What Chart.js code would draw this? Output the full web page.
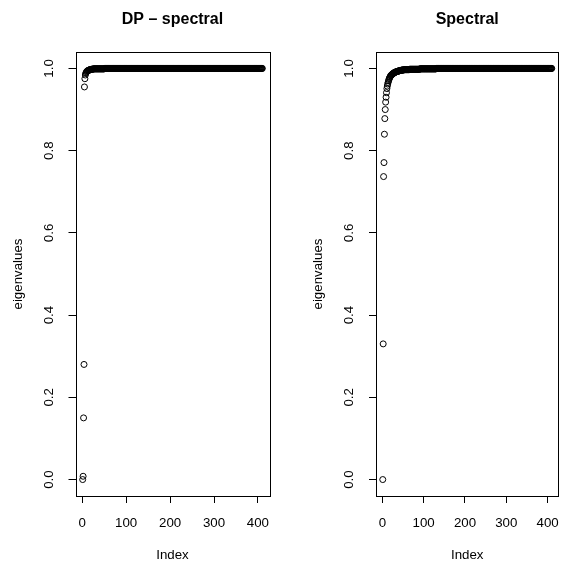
<!DOCTYPE html>
<html>
<head>
<meta charset="utf-8">
<script src="https://cdn.jsdelivr.net/npm/chart.js@4.4.1/dist/chart.umd.min.js"></script>
<style>
  html, body { margin: 0; padding: 0; background: #fff; overflow: hidden; }
  body { width: 571px; height: 565px; position: relative; }
  canvas { position: absolute; top: 0; }
</style>
</head>
<body>
<canvas id="dpChart" width="300" height="565" style="left:0"></canvas>
<canvas id="specChart" width="271" height="565" style="left:300px"></canvas>
<script>
const panelTitles = ['DP \u2013 spectral', 'Spectral'];
const xTitle = 'Index';
const yTitle = 'eigenvalues';
const xTicks = [0, 100, 200, 300, 400];
const yTicks = [0, 0.2, 0.4, 0.6, 0.8, 1.0];

// sorted eigenvalues, 410 each
const dpEigen = [
  0.000, 0.008, 0.150, 0.280, 0.955, 0.975, 0.984, 0.988, 0.990, 0.992, 0.993, 0.994, 0.995, 0.995, 0.996, 0.996, 0.997, 0.997, 0.997, 0.998,
  0.998, 0.998, 0.998, 0.998, 0.999, 0.999, 0.999, 0.999, 0.999, 0.999, 0.999, 0.999, 0.999, 0.999, 0.999, 0.999, 0.999, 0.999, 0.999, 0.999,
  0.999, 0.999, 0.999, 0.999, 0.999, 0.999, 0.999, 0.999, 0.999, 0.999, 1, 1, 1, 1, 1, 1, 1, 1, 1, 1,
  1, 1, 1, 1, 1, 1, 1, 1, 1, 1, 1, 1, 1, 1, 1, 1, 1, 1, 1, 1,
  1, 1, 1, 1, 1, 1, 1, 1, 1, 1, 1, 1, 1, 1, 1, 1, 1, 1, 1, 1,
  1, 1, 1, 1, 1, 1, 1, 1, 1, 1, 1, 1, 1, 1, 1, 1, 1, 1, 1, 1,
  1, 1, 1, 1, 1, 1, 1, 1, 1, 1, 1, 1, 1, 1, 1, 1, 1, 1, 1, 1,
  1, 1, 1, 1, 1, 1, 1, 1, 1, 1, 1, 1, 1, 1, 1, 1, 1, 1, 1, 1,
  1, 1, 1, 1, 1, 1, 1, 1, 1, 1, 1, 1, 1, 1, 1, 1, 1, 1, 1, 1,
  1, 1, 1, 1, 1, 1, 1, 1, 1, 1, 1, 1, 1, 1, 1, 1, 1, 1, 1, 1,
  1, 1, 1, 1, 1, 1, 1, 1, 1, 1, 1, 1, 1, 1, 1, 1, 1, 1, 1, 1,
  1, 1, 1, 1, 1, 1, 1, 1, 1, 1, 1, 1, 1, 1, 1, 1, 1, 1, 1, 1,
  1, 1, 1, 1, 1, 1, 1, 1, 1, 1, 1, 1, 1, 1, 1, 1, 1, 1, 1, 1,
  1, 1, 1, 1, 1, 1, 1, 1, 1, 1, 1, 1, 1, 1, 1, 1, 1, 1, 1, 1,
  1, 1, 1, 1, 1, 1, 1, 1, 1, 1, 1, 1, 1, 1, 1, 1, 1, 1, 1, 1,
  1, 1, 1, 1, 1, 1, 1, 1, 1, 1, 1, 1, 1, 1, 1, 1, 1, 1, 1, 1,
  1, 1, 1, 1, 1, 1, 1, 1, 1, 1, 1, 1, 1, 1, 1, 1, 1, 1, 1, 1,
  1, 1, 1, 1, 1, 1, 1, 1, 1, 1, 1, 1, 1, 1, 1, 1, 1, 1, 1, 1,
  1, 1, 1, 1, 1, 1, 1, 1, 1, 1, 1, 1, 1, 1, 1, 1, 1, 1, 1, 1,
  1, 1, 1, 1, 1, 1, 1, 1, 1, 1, 1, 1, 1, 1, 1, 1, 1, 1, 1, 1,
  1, 1, 1, 1, 1, 1, 1, 1, 1, 1
];

const spectralEigen = [
  0.000, 0.330, 0.737, 0.771, 0.840, 0.878, 0.900, 0.918, 0.930, 0.941, 0.951, 0.957, 0.962, 0.966, 0.970, 0.973, 0.976, 0.978, 0.980, 0.982,
  0.983, 0.984, 0.985, 0.986, 0.987, 0.988, 0.988, 0.989, 0.990, 0.990, 0.991, 0.991, 0.992, 0.992, 0.992, 0.993, 0.993, 0.993, 0.994, 0.994,
  0.994, 0.995, 0.995, 0.995, 0.995, 0.996, 0.996, 0.996, 0.996, 0.996, 0.996, 0.997, 0.997, 0.997, 0.997, 0.997, 0.997, 0.997, 0.997, 0.997,
  0.997, 0.997, 0.997, 0.997, 0.997, 0.998, 0.998, 0.998, 0.998, 0.998, 0.998, 0.998, 0.998, 0.998, 0.998, 0.998, 0.998, 0.998, 0.998, 0.998,
  0.998, 0.998, 0.998, 0.998, 0.998, 0.998, 0.998, 0.998, 0.998, 0.998, 0.999, 0.999, 0.999, 0.999, 0.999, 0.999, 0.999, 0.999, 0.999, 0.999,
  0.999, 0.999, 0.999, 0.999, 0.999, 0.999, 0.999, 0.999, 0.999, 0.999, 0.999, 0.999, 0.999, 0.999, 0.999, 0.999, 0.999, 0.999, 0.999, 0.999,
  0.999, 0.999, 0.999, 0.999, 0.999, 0.999, 0.999, 0.999, 0.999, 0.999, 1, 1, 1, 1, 1, 1, 1, 1, 1, 1,
  1, 1, 1, 1, 1, 1, 1, 1, 1, 1, 1, 1, 1, 1, 1, 1, 1, 1, 1, 1,
  1, 1, 1, 1, 1, 1, 1, 1, 1, 1, 1, 1, 1, 1, 1, 1, 1, 1, 1, 1,
  1, 1, 1, 1, 1, 1, 1, 1, 1, 1, 1, 1, 1, 1, 1, 1, 1, 1, 1, 1,
  1, 1, 1, 1, 1, 1, 1, 1, 1, 1, 1, 1, 1, 1, 1, 1, 1, 1, 1, 1,
  1, 1, 1, 1, 1, 1, 1, 1, 1, 1, 1, 1, 1, 1, 1, 1, 1, 1, 1, 1,
  1, 1, 1, 1, 1, 1, 1, 1, 1, 1, 1, 1, 1, 1, 1, 1, 1, 1, 1, 1,
  1, 1, 1, 1, 1, 1, 1, 1, 1, 1, 1, 1, 1, 1, 1, 1, 1, 1, 1, 1,
  1, 1, 1, 1, 1, 1, 1, 1, 1, 1, 1, 1, 1, 1, 1, 1, 1, 1, 1, 1,
  1, 1, 1, 1, 1, 1, 1, 1, 1, 1, 1, 1, 1, 1, 1, 1, 1, 1, 1, 1,
  1, 1, 1, 1, 1, 1, 1, 1, 1, 1, 1, 1, 1, 1, 1, 1, 1, 1, 1, 1,
  1, 1, 1, 1, 1, 1, 1, 1, 1, 1, 1, 1, 1, 1, 1, 1, 1, 1, 1, 1,
  1, 1, 1, 1, 1, 1, 1, 1, 1, 1, 1, 1, 1, 1, 1, 1, 1, 1, 1, 1,
  1, 1, 1, 1, 1, 1, 1, 1, 1, 1, 1, 1, 1, 1, 1, 1, 1, 1, 1, 1,
  1, 1, 1, 1, 1, 1, 1, 1, 1, 1
];

const FONT = '"Liberation Sans", Arial, Helvetica, sans-serif';

// box around the plot region + bold title above it
const panelFrame = {
  id: 'panelFrame',
  afterDraw(chart, args, opts) {
    const { ctx, chartArea: a } = chart;
    const l = Math.round(a.left) + 0.5, r = Math.round(a.right) + 0.5;
    const t = Math.round(a.top) + 0.5, b = Math.round(a.bottom) + 0.5;
    ctx.save();
    ctx.strokeStyle = '#000';
    ctx.lineWidth = 1;
    ctx.strokeRect(l, t, r - l, b - t);
    ctx.fillStyle = '#000';
    ctx.font = 'bold 16px ' + FONT;
    ctx.textAlign = 'center';
    ctx.textBaseline = 'middle';
    ctx.fillText(opts.text, (a.left + a.right) / 2, 19.5);
    ctx.restore();
  }
};

function makePanel(id, values, title, axisWidth, padRight) {
  // R-style 4% padding on both axes
  const n = values.length;
  const xPad = 0.04 * (n - 1);
  return new Chart(document.getElementById(id), {
    type: 'scatter',
    data: {
      datasets: [{
        data: values.map((v, i) => ({ x: i + 1, y: v })),
        pointStyle: 'circle',
        pointRadius: 3,
        pointBorderWidth: 1,
        pointBorderColor: '#000',
        pointBackgroundColor: 'rgba(0,0,0,0)'
      }]
    },
    options: {
      responsive: false,
      animation: false,
      devicePixelRatio: 1,
      layout: { padding: { top: 52, right: padRight, bottom: 0, left: 0 } },
      plugins: {
        legend: { display: false },
        tooltip: { enabled: false },
        panelFrame: { text: title }
      },
      scales: {
        x: {
          type: 'linear',
          min: 1 - xPad,
          max: n + xPad,
          afterBuildTicks: s => { s.ticks = xTicks.map(v => ({ value: v })); },
          afterFit: s => { s.height = 69; },
          grid: { display: true, drawOnChartArea: false, drawTicks: true, tickLength: 7, color: '#000', lineWidth: 1 },
          border: { display: false },
          ticks: { color: '#000', font: { family: FONT, size: 13.3 }, padding: 12, maxRotation: 0, autoSkip: false },
          title: { display: true, text: xTitle, color: '#000', font: { family: FONT, size: 13.3 }, padding: { top: 0, bottom: 2 } }
        },
        y: {
          type: 'linear',
          min: -0.04,
          max: 1.04,
          afterBuildTicks: s => { s.ticks = yTicks.map(v => ({ value: v })); },
          afterFit: s => { s.width = axisWidth; },
          grid: { display: true, drawOnChartArea: false, drawTicks: true, tickLength: 7, color: '#000', lineWidth: 1 },
          border: { display: false },
          ticks: {
            color: '#000', font: { family: FONT, size: 13.3 }, padding: 10,
            minRotation: 90, maxRotation: 90, crossAlign: 'center', autoSkip: false,
            callback: v => v.toFixed(1)
          },
          title: { display: true, text: yTitle, color: '#000', font: { family: FONT, size: 13.3 }, padding: { top: 10, bottom: 0 } }
        }
      }
    },
    plugins: [panelFrame]
  });
}

makePanel('dpChart', dpEigen, panelTitles[0], 75.5, 30.5);
makePanel('specChart', spectralEigen, panelTitles[1], 76, 1);
</script>
</body>
</html>
